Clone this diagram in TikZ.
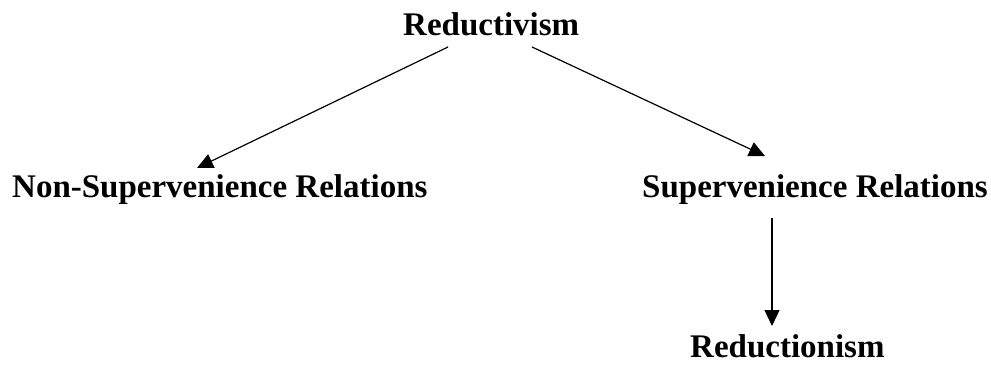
\documentclass[tikz,border=0pt]{standalone}
\usepackage{fontspec}
\setmainfont{Liberation Serif}
\usetikzlibrary{arrows.meta}
\begin{document}
\begin{tikzpicture}[x=1pt,y=-1pt,
  term/.style={inner sep=0pt,anchor=base west,font=\fontsize{33}{36}\selectfont\bfseries},
  link/.style={line width=1.2pt,-{Triangle[length=16pt,width=15pt]}}]
  \useasboundingbox (0,0) rectangle (991,365);
  % terms
  \node[term] (top)   at (403,35)  {Reductivism};
  \node[term] (nonsv) at (12,197)  {Non-Supervenience Relations};
  \node[term] (sv)    at (642,197) {Supervenience Relations};
  \node[term] (red)   at (690,357) {Reductionism};
  % arrow end points
  \coordinate (topL) at (448,47);
  \coordinate (topR) at (532,47);
  \coordinate (nonsvT) at (197,168);
  \coordinate (svT) at (765,156);
  \coordinate (svB) at (772,218);
  \coordinate (redT) at (772,326);
  % links
  \draw[link] (topL) -- (nonsvT);
  \draw[link] (topR) -- (svT);
  \draw[link] (svB) -- (redT);
\end{tikzpicture}
\end{document}
